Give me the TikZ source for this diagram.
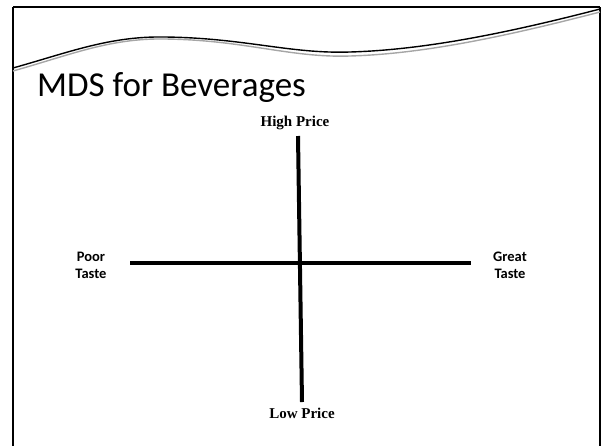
\documentclass[tikz,border=0pt]{standalone}
\usepackage{fontspec}
\setmainfont{Carlito}
\newfontfamily\serifbold{Liberation Serif}
\usepackage{tikz}
\usetikzlibrary{calc}

\begin{document}
\begin{tikzpicture}[
    x=1pt, y=-1pt,
    every node/.style={inner sep=0pt},
    heading/.style={anchor=base west, font=\fontsize{35}{40}\selectfont},
    taste/.style={align=center, font=\fontsize{14.5}{17}\selectfont\bfseries},
    price/.style={font=\fontsize{15}{17}\selectfont\serifbold\bfseries},
    axis/.style={line width=4pt},
    frame/.style={draw=black},
    swoosh/.style={line width=1.4pt}
]
\useasboundingbox (0,0) rectangle (602,445);

% slide frame
\draw[frame, line width=2.6pt] (13,450) -- (13,7);
\draw[frame, line width=2pt] (13,7) -- (600,7);
\draw[frame, line width=1.2pt] (600,7) -- (600,450);

% wavy rule under the title
\draw[swoosh, gray!70] (13,71) .. controls (70,55) and (110,38) .. (165,39)
    .. controls (245,40) and (290,58) .. (350,56)
    .. controls (420,54) and (500,38) .. (600,12);
\draw[swoosh, black] (13,68) .. controls (70,52) and (110,36) .. (165,37)
    .. controls (245,38) and (290,54) .. (350,52)
    .. controls (420,50) and (500,35) .. (600,9);

\node[heading] (title) at (37,96) {MDS for Beverages};

% axes
\coordinate (top) at (298,136);
\coordinate (bottom) at (302,402);
\coordinate (left) at (130,263);
\coordinate (right) at (471,263);

\node[price] (high) at (295,123) {High Price};
\node[price] (low) at (302,413) {Low Price};
\node[taste] (poor) at (91,265) {Poor\\Taste};
\node[taste] (great) at (510,265) {Great\\Taste};

\draw[axis] (top) -- (bottom);
\draw[axis] (left) -- (right);

\end{tikzpicture}
\end{document}
